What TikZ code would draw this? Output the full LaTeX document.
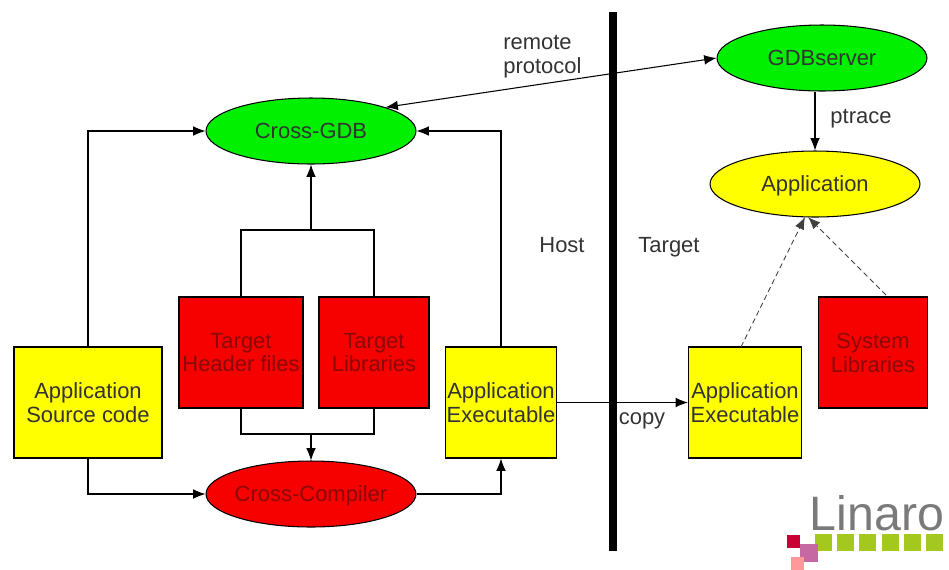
\documentclass[tikz,border=0pt]{standalone}
\usepackage{fontspec}
\setmainfont{Liberation Sans}
\usetikzlibrary{shapes.geometric,arrows.meta}
\definecolor{gdbgreen}{HTML}{00F000}
\definecolor{boxyellow}{HTML}{FFFF00}
\definecolor{boxred}{HTML}{F70000}
\definecolor{redtext}{HTML}{8A0808}
\definecolor{logogrey}{HTML}{7A7A7A}
\definecolor{logogreen}{HTML}{A5C81E}
\tikzset{
   ell/.style={ellipse,draw,line width=0.6pt,minimum width=4.2cm,minimum height=1.32cm,inner sep=0pt,inner xsep=-12pt,text height=9pt,text depth=0pt,font=\fontsize{12.5}{15}\selectfont,text=black!80},
   box/.style={rectangle,draw,line width=0.6pt,inner sep=0pt,align=center,font=\fontsize{12.5}{13.6}\selectfont,text=black!80},
   lab/.style={inner sep=0pt,text height=9pt,text depth=0pt,font=\fontsize{12.5}{15}\selectfont,text=black!80},
   con/.style={line width=0.6pt,-{Latex[length=7pt,width=5.5pt]}},
   thincon/.style={line width=0.5pt,densely dashed,black!75,-{Latex[length=7pt,width=5.5pt]}},
   tile/.style={inner sep=0pt,minimum size=0.34cm,fill=logogreen}
}
\begin{document}
\begin{tikzpicture}[x=0.02cm,y=-0.02cm]
   \useasboundingbox (0,0) rectangle (949,569);
   \node[ell,fill=gdbgreen] (crossgdb) at (311,131) {Cross-GDB};
   \node[ell,fill=gdbgreen] (gdbserver) at (822,58) {GDBserver};
   \node[ell,fill=boxyellow] (app) at (815,184) {Application};
   \node[ell,fill=boxred,text=redtext] (compiler) at (311,494) {Cross-Compiler};
   \node[box,fill=boxyellow,minimum width=2.96cm,minimum height=2.22cm] (source) at (88,402.5) {Application\\Source code};
   \node[box,fill=boxred,text=redtext,minimum width=2.48cm,minimum height=2.22cm] (headers) at (241,352.5) {Target\\Header files};
   \node[box,fill=boxred,text=redtext,minimum width=2.2cm,minimum height=2.22cm] (libs) at (374,352.5) {Target\\Libraries};
   \node[box,fill=boxyellow,minimum width=2.22cm,minimum height=2.22cm] (exehost) at (501,402.5) {Application\\Executable};
   \node[box,fill=boxyellow,minimum width=2.26cm,minimum height=2.22cm] (exetarget) at (745,402.5) {Application\\Executable};
   \node[box,fill=boxred,text=redtext,minimum width=2.18cm,minimum height=2.22cm] (syslibs) at (873,352.5) {System\\Libraries};
   % host / target split
   \coordinate (splittop) at (613,12);
   \coordinate (splitbot) at (613,551);
   \draw[line width=4pt] (splittop) -- (splitbot);
   \node[lab,anchor=west] (remote) at (503,42) {remote};
   \node[lab,anchor=west] (protocol) at (503,66) {protocol};
   \node[lab] (host) at (562,245) {Host};
   \node[lab] (target) at (669,245) {Target};
   \node[lab] (ptrace) at (861,116) {ptrace};
   \node[lab] (copy) at (642,417) {copy};
   % upper joins
   \coordinate (topleft) at (241,230);
   \coordinate (topright) at (374,230);
   \coordinate (topmid) at (311,230);
   \draw[line width=0.6pt] (headers.north) -- (topleft) -- (topright) -- (libs.north);
   \draw[con] (topmid) -- (crossgdb.south);
   % lower joins
   \coordinate (botleft) at (241,434);
   \coordinate (botright) at (374,434);
   \coordinate (botmid) at (311,434);
   \draw[line width=0.6pt] (headers.south) -- (botleft) -- (botright) -- (libs.south);
   \draw[con] (botmid) -- (compiler.north);
   \draw[con] (source.north) |- (crossgdb.west);
   \draw[con] (source.south) |- (compiler.west);
   \draw[con] (compiler.east) -| (exehost.south);
   \draw[con] (exehost.north) |- (crossgdb.east);
   \draw[con] (exehost.east) -- (exetarget.west);
   \draw[line width=0.6pt,{Latex[length=7pt,width=5.5pt]}-{Latex[length=7pt,width=5.5pt]}] (crossgdb.north east) -- (gdbserver.west);
   \draw[con] (gdbserver.south -| app.north) -- (app.north);
   % dashed arrows into the application
   \coordinate (exetop) at (741,347);
   \coordinate (systop) at (886,295);
   \coordinate (apptipa) at (805,217);
   \coordinate (apptipb) at (808,217);
   \draw[thincon] (exetop) -- (apptipa);
   \draw[thincon] (systop) -- (apptipb);
   % logo
   \node[inner sep=0pt,text=logogrey,font=\fontsize{27.5}{30}\selectfont] (linaro) at (877,513) {Linaro};
   \foreach \i in {0,...,5}
      \node[tile] (tile\i) at (823.5+22.2*\i,542) {};
   \node[inner sep=0pt,minimum size=0.26cm,fill=purple!85!red] (pinka) at (793,541) {};
   \node[inner sep=0pt,minimum size=0.36cm,fill=violet!45!pink] (violeta) at (809,553) {};
   \node[inner sep=0pt,minimum size=0.26cm,fill=pink!80!red] (pinkb) at (797,563) {};
\end{tikzpicture}
\end{document}
